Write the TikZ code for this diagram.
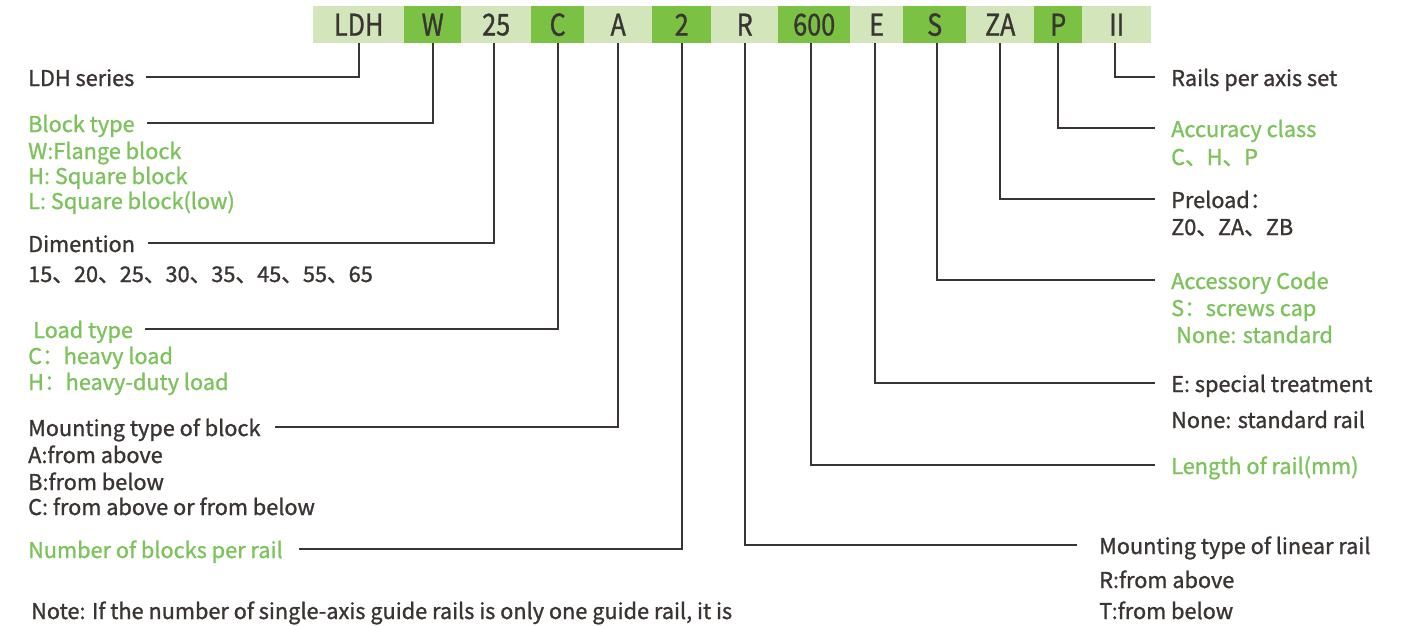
\documentclass[tikz,border=0pt]{standalone}
\usepackage{fontspec}
\setmainfont{Noto Sans CJK SC}[FakeBold=1.2]
\newfontfamily\barfont{Noto Sans CJK SC}[FakeStretch=0.84,FakeBold=1]
\definecolor{lightg}{HTML}{D3E6BB}
\definecolor{darkg}{HTML}{7BC143}
\definecolor{txt}{HTML}{3A3533}
\definecolor{gtxt}{HTML}{7CC35C}
\definecolor{ln}{HTML}{3A3533}
\begin{document}
\begin{tikzpicture}[x=1pt,y=-1pt,
  cell/.style={minimum height=37pt, inner sep=0pt, anchor=north west, font=\barfont\fontsize{30}{30}\selectfont, text=txt},
  lcell/.style={cell, fill=lightg},
  dcell/.style={cell, fill=darkg},
  title/.style={anchor=base west, inner sep=0pt, text height=18pt, text depth=0pt, font=\fontsize{21.7}{25}\selectfont},
  body/.style={anchor=base west, inner sep=0pt, font=\fontsize{21.7}{25}\selectfont},
  conn/.style={draw=ln, line width=2.4pt}
]
\useasboundingbox (0,0) rectangle (1406,625);
% code bar
\node[lcell, minimum width=91pt] (cLDH) at (313,6) {LDH};
\node[dcell, minimum width=57pt] (cW) at (404,6) {W};
\node[lcell, minimum width=70pt] (c25) at (461,6) {25};
\node[dcell, minimum width=53pt] (cC) at (531,6) {C};
\node[lcell, minimum width=68pt] (cA) at (584,6) {A};
\node[dcell, minimum width=59pt] (c2) at (652,6) {2};
\node[lcell, minimum width=67pt] (cR) at (711,6) {R};
\node[dcell, minimum width=72pt] (c600) at (778,6) {600};
\node[lcell, minimum width=53pt] (cE) at (850,6) {E};
\node[dcell, minimum width=63pt] (cS) at (903,6) {S};
\node[lcell, minimum width=68pt] (cZA) at (966,6) {ZA};
\node[dcell, minimum width=48pt] (cP) at (1034,6) {P};
\node[lcell, minimum width=69pt] (cII) at (1082,6) {II};
% left labels
\node[title, text=txt] (tLDH) at (28,86) {LDH series};
\node[title, text=gtxt] (tBlock) at (28,132) {Block type};
\node[body, text=gtxt] (bW) at (28,159) {W:Flange block};
\node[body, text=gtxt] (bH) at (28,184) {H: Square block};
\node[body, text=gtxt] (bL) at (28,209) {L: Square block(low)};
\node[title, text=txt] (tDim) at (28,252) {Dimention};
\node[body, text=txt] (bDim) at (28,282) {15、20、25、30、35、45、55、65};
\node[title, text=gtxt] (tLoad) at (33,338) {Load type};
\node[body, text=gtxt] (bC) at (28,364) {C：heavy load};
\node[body, text=gtxt] (bHd) at (28,390) {H：heavy-duty load};
\node[title, text=txt] (tMount) at (28,436) {Mounting type of block};
\node[body, text=txt] (bA) at (28,463) {A:from above};
\node[body, text=txt] (bB) at (28,490) {B:from below};
\node[body, text=txt] (bCC) at (28,515) {C: from above or from below};
\node[title, text=gtxt] (tNum) at (28,558) {Number of blocks per rail};
\node[body, text=txt] (bNote) at (31,619) {Note: If the number of single-axis guide rails is only one guide rail, it is};
% right labels
\node[title, text=txt] (tRails) at (1171,86) {Rails per axis set};
\node[title, text=gtxt] (tAcc) at (1171,137) {Accuracy class};
\node[body, text=gtxt] (bAcc) at (1171,165) {C、H、P};
\node[title, text=txt] (tPre) at (1171,208) {Preload：};
\node[body, text=txt] (bPre) at (1171,235) {Z0、ZA、ZB};
\node[title, text=gtxt] (tAccs) at (1171,289) {Accessory Code};
\node[body, text=gtxt] (bS) at (1171,316) {S：screws cap};
\node[body, text=gtxt] (bNone) at (1176,343) {None: standard};
\node[title, text=txt] (tE) at (1171,392) {E: special treatment};
\node[body, text=txt] (bNoneR) at (1171,428) {None: standard rail};
\node[title, text=gtxt] (tLen) at (1171,474) {Length of rail(mm)};
\node[title, text=txt] (tMR) at (1099,554) {Mounting type of linear rail};
\node[body, text=txt] (bR) at (1099,588) {R:from above};
\node[body, text=txt] (bT) at (1099,619) {T:from below};
% connectors
\draw[conn] (cLDH.south) |- ([xshift=11pt]tLDH.east);
\draw[conn] (cW.south) |- ([xshift=12pt]tBlock.east);
\draw[conn] ([xshift=-2pt]c25.south) |- ([xshift=13pt]tDim.east);
\draw[conn] (cC.south) |- ([xshift=12pt]tLoad.east);
\draw[conn] (cA.south) |- ([xshift=14pt]tMount.east);
\draw[conn] (c2.south) |- ([xshift=16pt]tNum.east);
\draw[conn] (cR.south) |- ([xshift=-22pt]tMR.west);
\draw[conn] ([xshift=-3pt]c600.south) |- ([xshift=-16pt]tLen.west);
\draw[conn] ([xshift=-2pt]cE.south) |- ([xshift=-16pt]tE.west);
\draw[conn] ([xshift=2pt]cS.south) |- ([xshift=-16pt]tAccs.west);
\draw[conn] (cZA.south) |- ([xshift=-16pt]tPre.west);
\draw[conn] (cP.south) |- ([xshift=-16pt]tAcc.west);
\draw[conn] ([xshift=-2pt]cII.south) |- ([xshift=-16pt]tRails.west);
\end{tikzpicture}
\end{document}
